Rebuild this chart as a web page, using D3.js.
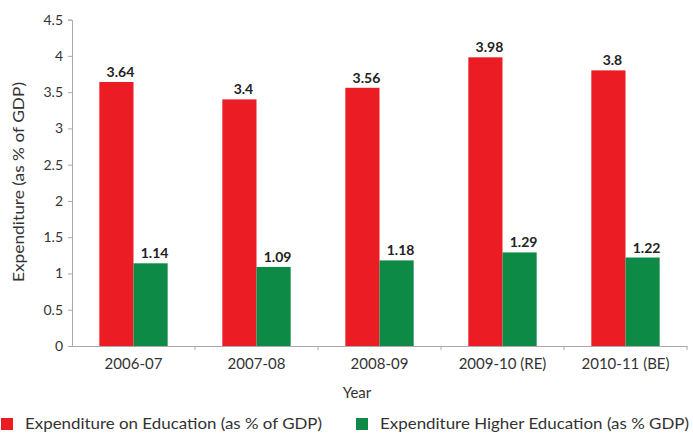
<!DOCTYPE html>
<html>
<head>
<meta charset="utf-8">
<script src="https://cdn.jsdelivr.net/npm/d3@7/dist/d3.min.js"></script>
<style>
  html, body { margin: 0; padding: 0; background: #fff; }
  svg { display: block; font-family: Lato, "Open Sans", sans-serif; }
</style>
</head>
<body>
<svg id="chart" width="693" height="438"></svg>
<script>
// Public expenditure on education, share of GDP
const years = ["2006-07", "2007-08", "2008-09", "2009-10 (RE)", "2010-11 (BE)"];
const seriesNames = [
  "Expenditure on Education (as % of GDP)",
  "Expenditure Higher Education (as % GDP)"
];
const educationTotal = [3.64, 3.4, 3.56, 3.98, 3.8];
const higherEducation = [1.14, 1.09, 1.18, 1.29, 1.22];
const yTicks = [0, 0.5, 1, 1.5, 2, 2.5, 3, 3.5, 4, 4.5];
const colors = ["#ec1c24", "#0c8a46"];

const rows = years.map((y, i) => ({ year: y, values: [educationTotal[i], higherEducation[i]] }));

const svg = d3.select("#chart");
const plotLeft = 72, plotRight = 687, plotTop = 19.6, plotBottom = 346;
const textColor = "#333";

const x = d3.scaleBand().domain(years).range([plotLeft, plotRight]).paddingInner(0).paddingOuter(0);
const x1 = d3.scaleBand().domain([0, 1]).range([0, x.bandwidth()]).paddingInner(0).paddingOuter(0.8);
const y = d3.scaleLinear().domain([0, 4.5]).range([plotBottom, plotTop]);

// Y axis
const yAxis = svg.append("g")
  .attr("transform", `translate(${plotLeft},0)`)
  .call(d3.axisLeft(y).tickValues(yTicks).tickFormat(d3.format("")).tickSize(4).tickPadding(5));
yAxis.select(".domain").attr("stroke", "#aaa");
yAxis.selectAll(".tick line").attr("stroke", "#aaa");
yAxis.selectAll(".tick text").attr("fill", textColor).style("font-size", "14px").style("font-family", "Lato, sans-serif");

// X axis with ticks between categories
const xAxis = svg.append("g")
  .attr("transform", `translate(0,${plotBottom})`)
  .call(d3.axisBottom(x).tickSize(0).tickPadding(12));
xAxis.select(".domain").attr("stroke", "#aaa");
xAxis.selectAll(".tick text").attr("fill", textColor).style("font-size", "15px").style("font-family", "Lato, sans-serif");
xAxis.selectAll(".sep")
  .data(years)
  .join("line")
  .attr("class", "sep")
  .attr("x1", d => x(d) + x.bandwidth())
  .attr("x2", d => x(d) + x.bandwidth())
  .attr("y1", 0).attr("y2", 4)
  .attr("stroke", "#aaa");

// Bars
const groups = svg.append("g").selectAll("g")
  .data(rows)
  .join("g")
  .attr("transform", d => `translate(${x(d.year)},0)`);

groups.selectAll("rect")
  .data(d => d.values.map((v, k) => ({ v, k })))
  .join("rect")
  .attr("x", d => x1(d.k))
  .attr("width", x1.bandwidth())
  .attr("y", d => y(d.v))
  .attr("height", d => y(0) - y(d.v))
  .attr("fill", d => colors[d.k]);

// Value labels
groups.selectAll("text.val")
  .data(d => d.values.map((v, k) => ({ v, k })))
  .join("text")
  .attr("class", "val")
  .attr("x", d => x1(d.k) + x1.bandwidth() / 2 + 4)
  .attr("y", d => y(d.v) - 5)
  .attr("text-anchor", "middle")
  .attr("fill", "#222")
  .style("font-size", "14px")
  .style("font-weight", "bold")
  .text(d => d.v);

// Axis titles
svg.append("text")
  .attr("transform", `translate(24,182) rotate(-90)`)
  .attr("text-anchor", "middle")
  .attr("fill", textColor)
  .style("font-size", "16px")
  .attr("textLength", 200)
  .attr("lengthAdjust", "spacingAndGlyphs")
  .text("Expenditure (as % of GDP)");

svg.append("text")
  .attr("x", 357)
  .attr("y", 398)
  .attr("text-anchor", "middle")
  .attr("fill", textColor)
  .style("font-size", "15px")
  .text("Year");

// Legend
const legendX = [0, 355];
const legendWidths = [297, 309];
const legend = svg.append("g").selectAll("g")
  .data(seriesNames)
  .join("g")
  .attr("transform", (d, i) => `translate(${legendX[i]},424)`);
legend.append("rect")
  .attr("x", 1).attr("y", -6).attr("width", 12).attr("height", 12)
  .attr("fill", (d, i) => colors[i]);
legend.append("text")
  .attr("x", 25).attr("y", 5)
  .attr("fill", textColor)
  .style("font-size", "15px")
  .attr("textLength", (d, i) => legendWidths[i])
  .attr("lengthAdjust", "spacingAndGlyphs")
  .text(d => d);
</script>
</body>
</html>
